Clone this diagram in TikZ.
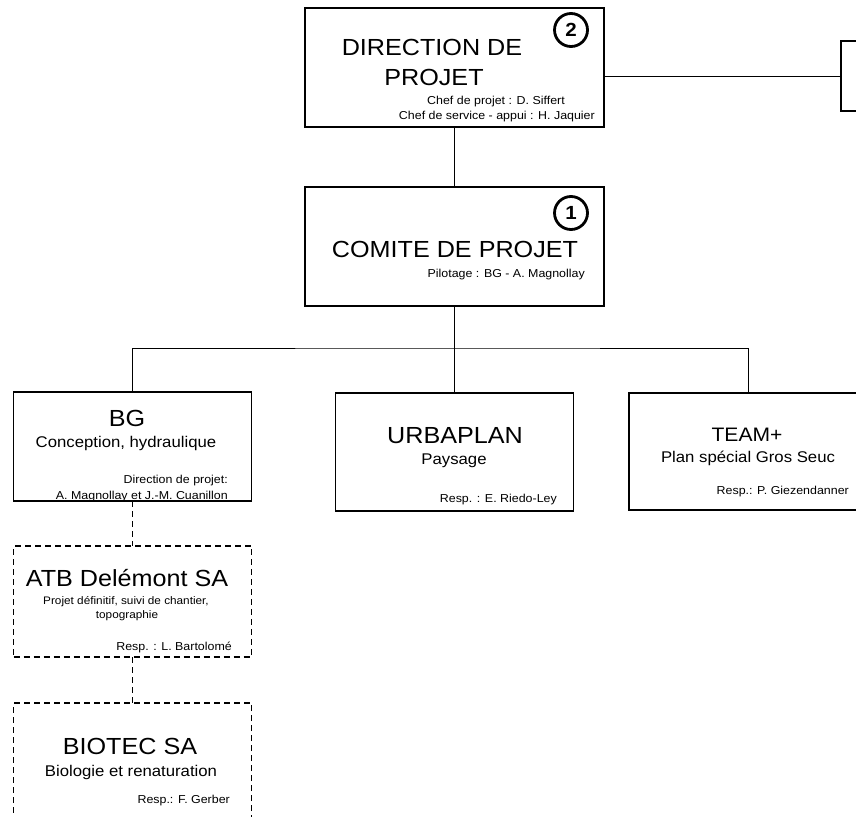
\documentclass[tikz,border=0pt]{standalone}
\usepackage{fontspec}
\setmainfont{Liberation Sans}[FakeStretch=1.08]
\usepackage{tikz}
\usetikzlibrary{calc}
\newcommand{\numcircle}[4]{
  \draw[line width=2.8pt] (#2,#3) circle (16.5pt);
  \node[font=\fontsize{19}{21}\selectfont\bfseries] (#1) at (#2,#3) {#4};
}

\begin{document}
\begin{tikzpicture}[x=1pt,y=-1pt,
    orgbox/.style={draw,line width=1.3pt,inner sep=0pt,outer sep=0pt},
    extbox/.style={orgbox,dash pattern=on 6pt off 4pt},
    link/.style={line width=1pt},
    extlink/.style={link,dash pattern=on 6pt off 4pt},
    lbl/.style={inner sep=0pt},
    title/.style={lbl,font=\fontsize{23.3}{26}\selectfont},
    sub/.style={lbl,font=\fontsize{15.5}{18}\selectfont},
    note/.style={lbl,font=\fontsize{11.5}{13}\selectfont,anchor=base east}]
  \useasboundingbox (0,0) rectangle (856,816);
  % boxes
  \node[orgbox,minimum width=299pt,minimum height=119pt] (dir) at (454.5,67.5) {};
  \node[orgbox,minimum width=299pt,minimum height=119pt] (com) at (454.5,246.5) {};
  \node[orgbox,minimum width=160pt,minimum height=70pt] (ext) at (921,76) {};
  \node[orgbox,minimum width=238pt,minimum height=109pt] (bg) at (132.5,446.5) {};
  \node[orgbox,minimum width=238pt,minimum height=118pt] (urb) at (454.5,452) {};
  \node[orgbox,minimum width=238pt,minimum height=117pt] (team) at (748,451.5) {};
  \node[extbox,minimum width=238pt,minimum height=111pt] (atb) at (132.5,601.5) {};
  \node[extbox,minimum width=238pt,minimum height=130pt] (bio) at (132.5,768) {};
  % connectors
  \coordinate (bus) at (454.5,348);
  \draw[link] (ext.west) -- (ext.west -| dir.east);
  \draw[link] (dir) -- (com);
  \draw[link] (com) -- (urb);
  \draw[link] (bg) |- (bus) -| (team);
  \draw[extlink] (bg) -- (atb);
  \draw[extlink] (atb) -- (bio);
  % direction de projet
  \numcircle{n2}{571}{30}{2}
  \node[title,anchor=base] (dirt1) at (432,56) {DIRECTION DE};
  \node[title,anchor=base] (dirt2) at (434,85) {PROJET};
  \node[note] (dirn1) at (565,104) {Chef de projet : D. Siffert};
  \node[note] (dirn2) at (595,119) {Chef de service - appui : H. Jaquier};
  % comite de projet
  \numcircle{n1}{571}{213}{1}
  \node[title,anchor=base] (comt) at (455,257) {COMITE DE PROJET};
  \node[note] (comn) at (585,277) {Pilotage : BG - A. Magnollay};
  % BG
  \node[title,anchor=base] (bgt) at (127,426) {BG};
  \node[sub,anchor=base] (bgs) at (126,447) {Conception, hydraulique};
  \node[note] (bgn1) at (228,483) {Direction de projet:};
  \node[note] (bgn2) at (228,499) {A. Magnollay et J.-M. Cuanillon};
  % URBAPLAN
  \node[title,anchor=base] (urbt) at (455,443) {URBAPLAN};
  \node[sub,anchor=base] (urbs) at (454,464) {Paysage};
  \node[note] (urbn) at (557,502) {Resp. : E. Riedo-Ley};
  % TEAM+
  \node[title,anchor=base,font=\fontsize{19.5}{22}\selectfont] (teamt) at (747,441) {TEAM+};
  \node[sub,anchor=base] (teams) at (748,462) {Plan spécial Gros Seuc};
  \node[note] (teamn) at (849,494) {Resp.: P. Giezendanner};
  % ATB
  \node[title,anchor=base] (atbt) at (127,586) {ATB Delémont SA};
  \node[lbl,anchor=base,font=\fontsize{10.9}{13}\selectfont] (atbs1) at (126,604) {Projet définitif, suivi de chantier,};
  \node[lbl,anchor=base,font=\fontsize{10.9}{13}\selectfont] (atbs2) at (127,618) {topographie};
  \node[note] (atbn) at (232,650) {Resp. : L. Bartolomé};
  % BIOTEC
  \node[title,anchor=base] (biot) at (130,754) {BIOTEC SA};
  \node[sub,anchor=base] (bios) at (131,776) {Biologie et renaturation};
  \node[note] (bion) at (230,803) {Resp.: F. Gerber};
\end{tikzpicture}
\end{document}
